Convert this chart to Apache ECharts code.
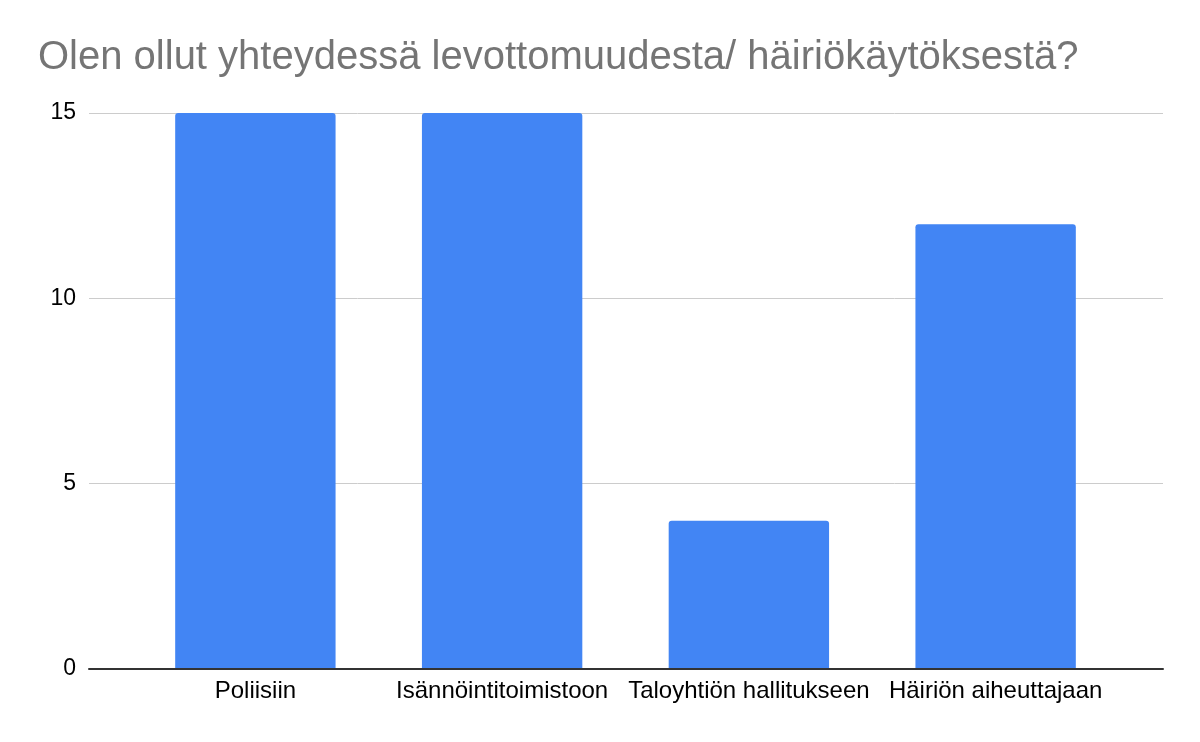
<!DOCTYPE html>
<html><head><meta charset="utf-8">
<script src="https://cdn.jsdelivr.net/npm/echarts@6/dist/echarts.min.js"></script>
<style>html,body{margin:0;padding:0;background:#fff}#c{width:1200px;height:742px}</style>
</head><body><div id="c"></div>
<script>
const titleText = "Olen ollut yhteydessä levottomuudesta/ häiriökäytöksestä?";
const categories = ["Poliisiin", "Isännöintitoimistoon", "Taloyhtiön hallitukseen", "Häiriön aiheuttajaan"];
const values = [15, 15, 4, 12];
const yTicks = { min: 0, max: 15, interval: 5 };
const FONT = 'Liberation Sans, Arial, sans-serif';
const chart = echarts.init(document.getElementById('c'));
chart.setOption({
  animation: false,
  backgroundColor: '#fff',
  title: {
    text: titleText, left: 33, top: 33,
    textStyle: { fontFamily: FONT, fontSize: 40, fontWeight: 'normal', color: '#757575' }
  },
  grid: [
    { left: 89, right: 37, top: 113, bottom: 73 },
    { left: 132, right: 81, top: 113, bottom: 73 }
  ],
  xAxis: [
    {
      gridIndex: 0, type: 'category', data: categories, z: 10,
      axisLine: { lineStyle: { color: '#333', width: 2 } },
      axisTick: { show: false }, axisLabel: { show: false }
    },
    {
      gridIndex: 1, type: 'category', data: categories,
      axisLine: { show: false }, axisTick: { show: false },
      axisLabel: { fontFamily: FONT, fontSize: 24, color: '#000', margin: 10, interval: 0 }
    }
  ],
  yAxis: [
    {
      gridIndex: 0, type: 'value', min: yTicks.min, max: yTicks.max, interval: yTicks.interval,
      axisLine: { show: false }, axisTick: { show: false },
      splitLine: { lineStyle: { color: '#cccccc', width: 1 } },
      axisLabel: { fontFamily: FONT, fontSize: 23, color: '#000', margin: 13 }
    },
    {
      gridIndex: 1, type: 'value', min: yTicks.min, max: yTicks.max, interval: yTicks.interval,
      show: false, splitLine: { show: false }
    }
  ],
  series: [{
    type: 'bar', xAxisIndex: 1, yAxisIndex: 1, data: values, barWidth: '65%',
    itemStyle: { color: '#4285F4', borderRadius: [3, 3, 0, 0] }
  }]
});
</script></body></html>
